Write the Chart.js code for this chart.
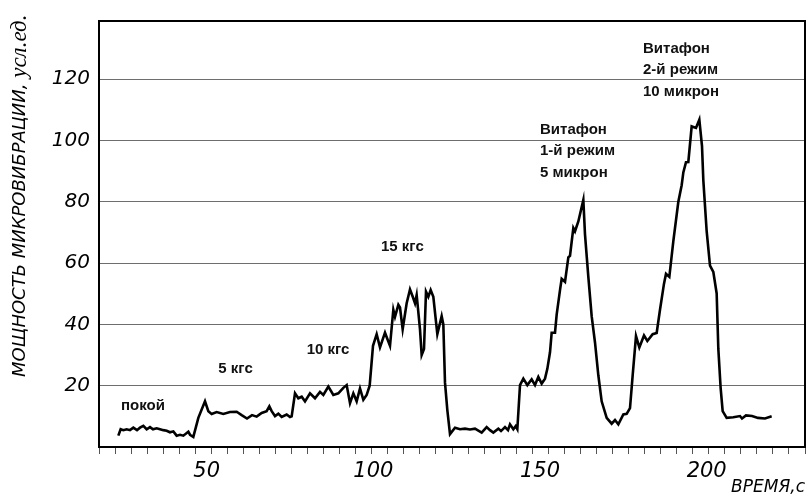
<!DOCTYPE html>
<html>
<head>
<meta charset="utf-8">
<script src="https://cdn.jsdelivr.net/npm/chart.js@4.4.1/dist/chart.umd.min.js"></script>
<style>html,body{margin:0;padding:0;background:#fff}canvas{display:block}</style>
</head>
<body>
<canvas id="c" width="808" height="496"></canvas>
<script>
// ---- data ----
const timeSec = [23.5,24.2,25.0,26.0,27.0,28.0,29.1,30.0,31.0,32.0,33.0,33.9,35.0,36.0,37.0,38.0,39.0,40.0,41.0,42.0,43.0,44.5,45.0,46.0,47.5,49.5,50.5,51.5,53.0,55.0,57.0,59.0,60.5,62.1,63.6,65.0,66.5,68.0,68.8,69.5,70.5,71.5,72.5,74.0,75.0,75.5,76.5,77.5,78.5,79.5,81.0,82.5,84.0,85.0,86.5,88.0,89.5,91.0,92.0,93.0,94.0,95.0,96.0,97.0,98.0,98.9,99.9,101.0,102.0,103.5,105.0,106.0,106.5,107.5,108.0,108.8,110.0,111.0,111.8,112.5,113.0,114.0,114.5,115.2,115.8,116.5,117.2,118.0,119.2,120.5,121.0,121.5,122.2,123.0,124.5,126.0,127.5,129.0,130.5,132.5,134.0,135.0,136.0,137.5,138.3,139.5,140.4,141.0,142.0,142.7,143.2,144.0,145.0,146.2,147.5,148.5,149.5,150.5,151.5,152.2,153.0,153.5,154.5,155.0,156.0,156.5,157.5,158.5,159.0,160.0,160.5,161.5,163.0,163.5,164.5,165.5,166.5,167.5,168.5,170.0,171.5,172.5,173.5,175.0,176.0,177.0,177.8,178.8,179.8,181.2,182.2,183.8,185.0,186.0,187.2,187.8,188.8,190.0,191.5,192.5,193.0,193.8,194.5,195.5,196.0,196.8,197.8,198.6,199.0,200.0,201.0,202.0,203.0,203.5,204.2,204.8,206.0,208.0,210.0,210.6,211.8,213.6,215.4,217.5,219.5];
const power = [3.7,5.8,5.5,5.8,5.5,6.3,5.5,6.3,6.9,5.8,6.5,5.8,6.1,5.8,5.5,5.3,4.8,5.1,3.7,4.0,3.7,5.0,4.0,3.3,9.5,14.9,11.7,10.8,11.4,10.8,11.4,11.5,10.4,9.3,10.4,9.9,11.1,11.7,13.3,11.7,10.1,10.9,9.8,10.6,9.8,10.0,17.5,15.9,16.4,14.9,17.5,15.9,18.0,17.0,19.7,17.0,17.5,19.3,20.2,14.3,17.5,14.9,19.1,15.4,17.0,20.0,33.0,36.8,32.5,37.3,33.0,44.8,42.5,46.4,45.5,38.4,46.9,51.4,49.1,46.9,49.6,38.4,30.0,32.0,50.7,49.0,51.2,49.0,36.8,42.7,40.0,21.0,12.0,4.2,6.3,5.8,6.0,5.7,6.0,4.7,6.5,5.5,4.7,6.0,5.2,6.5,5.5,7.4,5.8,6.8,5.8,20.2,22.3,20.2,22.1,20.2,22.9,20.7,22.3,25.5,30.9,37.3,37.3,43.2,51.2,54.9,53.9,61.9,62.4,71.5,70.4,73.6,80.6,69.4,55.5,42.7,34.1,23.4,14.9,9.5,7.6,8.8,7.4,10.6,10.8,12.7,23.4,36.2,32.5,36.4,34.6,36.8,37.2,44.8,53.3,56.5,55.5,67.2,80.0,85.4,89.6,92.9,93.0,104.6,104.4,104.1,106.8,98.2,87.0,70.4,59.2,57.1,50.1,32.0,19.1,11.7,9.5,9.7,10.1,9.3,10.3,10.1,9.5,9.3,10.0];
const xTicks = [50, 100, 150, 200];
const yTicks = [20, 40, 60, 80, 100, 120];
const xRange = [17.7, 229.5];
const yRange = [0, 139];
const minorTickCount = 44;
const xTitle = 'ВРЕМЯ,с';
const yTitleMain = 'МОЩНОСТЬ МИКРОВИБРАЦИИ, ';
const yTitleUnit = 'усл.ед.';
const noteTexts = [
  ['покой'],
  ['5 кгс'],
  ['10 кгс'],
  ['15 кгс'],
  ['Витафон', '1-й режим', '5 микрон'],
  ['Витафон', '2-й режим', '10 микрон']
];
// anchor of each note (left edge, first line middle) in axis units
const noteAnchorT = [24.3, 53.5, 80.0, 102.3, 150.0, 180.9];
const noteAnchorV = [13.3, 25.5, 31.6, 65.3, 103.6, 130.0];

// ---- plugins (decoration / text) ----
const bgPlugin = {
  id: 'bg',
  beforeDraw(chart) {
    const c = chart.ctx;
    c.save(); c.fillStyle = '#fff'; c.fillRect(0, 0, chart.width, chart.height); c.restore();
  }
};
const framePlugin = {
  id: 'frame',
  afterDatasetsDraw(chart) {
    const a = chart.chartArea, c = chart.ctx;
    c.save(); c.strokeStyle = '#000'; c.lineWidth = 2;
    c.strokeRect(a.left, a.top, a.right - a.left, a.bottom - a.top);
    c.restore();
  }
};
const notesPlugin = {
  id: 'notes',
  afterDatasetsDraw(chart) {
    const c = chart.ctx, xs = chart.scales.x, ys = chart.scales.y;
    c.save();
    c.fillStyle = '#111';
    c.font = 'bold 15px "Liberation Sans", Arial, sans-serif';
    c.textAlign = 'left'; c.textBaseline = 'middle';
    noteTexts.forEach((lines, i) => {
      const px = xs.getPixelForValue(noteAnchorT[i]);
      const py = ys.getPixelForValue(noteAnchorV[i]);
      lines.forEach((ln, k) => c.fillText(ln, px, py + k * 21.5));
    });
    c.restore();
  }
};
const yTitlePlugin = {
  id: 'ytitle',
  afterDraw(chart) {
    const c = chart.ctx;
    c.save();
    c.translate(20, 377);
    c.rotate(-Math.PI / 2);
    c.fillStyle = '#000';
    c.textAlign = 'left'; c.textBaseline = 'middle';
    c.font = 'italic 18px "DejaVu Sans", sans-serif';
    c.fillText(yTitleMain, 0, 0);
    const w = c.measureText(yTitleMain).width;
    c.font = 'italic 23px "Liberation Serif", serif';
    c.fillText(yTitleUnit, w, 0);
    c.restore();
  }
};

const tickFont = { family: 'DejaVu Sans', style: 'italic', size: 21 };

new Chart(document.getElementById('c'), {
  type: 'line',
  data: {
    datasets: [{
      data: timeSec.map((t, i) => ({ x: t, y: power[i] })),
      borderColor: '#000',
      borderWidth: 2.6,
      pointRadius: 0,
      tension: 0,
      fill: false,
      xAxisID: 'x',
      yAxisID: 'y'
    }]
  },
  options: {
    responsive: false,
    animation: false,
    devicePixelRatio: 1,
    layout: { padding: { top: 13, right: 3, left: 0, bottom: 0 } },
    plugins: { legend: { display: false }, tooltip: { enabled: false } },
    scales: {
      x: {
        type: 'linear', position: 'bottom', weight: 1,
        min: xRange[0], max: xRange[1],
        afterBuildTicks: s => { s.ticks = xTicks.map(v => ({ value: v })); },
        ticks: { font: tickFont, color: '#000', padding: 5, maxRotation: 0, autoSkip: false, callback: v => String(v) },
        grid: { display: false, drawTicks: false },
        border: { display: false },
        title: { display: true, text: xTitle, align: 'end', color: '#000', padding: { top: 0, bottom: -2 },
                 font: { family: 'DejaVu Sans', style: 'italic', size: 17 } },
        afterFit: s => { s.height = 42; }
      },
      xt: {
        type: 'linear', position: 'bottom', weight: 0,
        min: 0, max: minorTickCount,
        afterBuildTicks: s => { s.ticks = Array.from({ length: minorTickCount + 1 }, (_, i) => ({ value: i })); },
        ticks: { display: false },
        grid: { drawOnChartArea: false, drawTicks: true, tickLength: 7, color: '#555', lineWidth: 1 },
        border: { display: false }
      },
      y: {
        type: 'linear', position: 'left',
        min: yRange[0], max: yRange[1],
        afterBuildTicks: s => { s.ticks = yTicks.map(v => ({ value: v })); },
        ticks: { font: { family: 'DejaVu Sans', style: 'italic', size: 20 }, color: '#000', padding: 9, autoSkip: false },
        grid: { color: '#6e6e6e', lineWidth: 1, drawTicks: false },
        border: { display: false },
        afterFit: s => { s.width = 99; }
      }
    }
  },
  plugins: [bgPlugin, framePlugin, notesPlugin, yTitlePlugin]
});
</script>
</body>
</html>
